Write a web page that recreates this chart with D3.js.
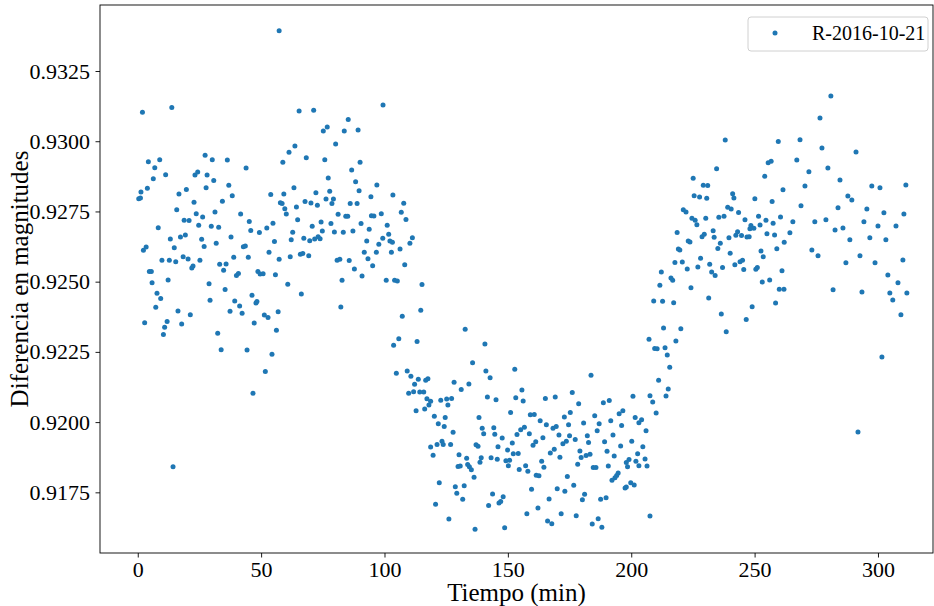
<!DOCTYPE html>
<html>
<head>
<meta charset="utf-8">
<script src="https://cdn.jsdelivr.net/npm/d3@7"></script>
<style>
  body { margin: 0; background: #fff; }
  svg { display: block; }
  text { font-family: "Liberation Serif", "Times New Roman", serif; fill: #000; }
</style>
</head>
<body>
<svg id="chart" width="934" height="606"></svg>
<script>
// time (min) and magnitude difference
const times = [
    1.9, 13.8, 4.3, 8.9, 6.9, 6.3, 11.3, 1.3, 3.9, 0.4, 1.1, 27.3, 23.2, 24.3, 28.1, 27.7, 16.7, 19.7, 22.8, 15.8,
    23.7, 26.3, 18.8, 20.8, 24.7, 8.3, 13.2, 17.3, 19.3, 25.9, 2.3, 3.4, 14.8, 26.9, 9.8, 12.8, 15.4, 18.4, 20.4, 25.2,
    21.9, 22.4, 4.7, 5.5, 5.8, 12.3, 28.9, 7.8, 9.3, 7.3, 16.3, 21.3, 2.8, 11.9, 17.8, 10.9, 10.4, 14.3,
    30.2, 36.3, 43.9, 58.8, 30.8, 36.9, 38.3, 34.3, 53.9, 59.2, 57.8, 58.5, 59.6, 31.3, 41.7, 45.2, 29.8, 32.8, 45.8, 49.3,
    52.3, 54.8, 31.8, 37.8, 42.8, 43.6, 55.4, 53.2, 38.9, 44.8, 57.3, 33.2, 35.8, 34.8, 40.0, 40.8, 48.7, 49.6, 50.8, 55.8,
    35.4, 29.3, 39.3, 41.3, 46.3, 47.9, 48.3, 37.4, 42.3, 51.3, 52.8, 56.9, 47.2, 56.2, 32.4, 33.8, 44.3, 54.4, 51.7, 46.7,
    65.4, 71.3, 85.3, 76.8, 75.2, 83.7, 89.3, 63.7, 80.2, 61.3, 68.3, 75.8, 90.1, 86.7, 77.2, 88.3, 63.3, 89.7, 72.2, 77.8,
    64.3, 67.8, 70.2, 72.8, 76.3, 79.3, 78.7, 86.1, 88.9, 60.2, 64.8, 81.2, 84.3, 85.1, 90.5, 70.7, 74.3, 78.3, 62.8, 62.2,
    67.3, 69.7, 71.7, 73.1, 73.9, 74.8, 79.7, 83.3, 87.2, 61.8, 65.9, 66.9, 69.3, 80.8, 81.9, 85.7, 87.8, 90.9, 82.8, 60.8,
    66.3, 82.3, 57.3, 99.4, 96.9, 94.5, 103.4,
    107.8, 106.8, 108.7, 94.7, 95.7, 98.7, 93.8, 101.1, 101.7, 99.3, 92.8, 97.7, 102.2, 103.2, 111.3, 110.3, 106.3, 91.8, 96.7, 102.8,
    93.3, 95.2, 108.2, 100.7, 104.1, 105.2, 115.2, 114.7, 107.2, 105.8, 103.7, 113.2, 104.8, 109.2, 110.7, 113.7, 112.2, 116.7, 117.6, 109.8,
    111.8, 114.3, 115.9, 117.2, 118.0, 116.3, 112.8, 118.7,
    132.7, 140.7, 135.7, 141.1, 142.8, 128.2, 134.2, 131.1, 118.7, 122.8, 125.2, 127.2, 125.7, 141.7, 145.2, 120.2, 124.6, 121.8, 124.2, 127.8,
    138.3, 139.6, 140.2, 144.3, 144.7, 121.3, 123.3, 123.8, 126.8, 137.1, 137.9, 146.0, 119.7, 130.2, 133.3, 139.2, 138.7, 143.2, 145.7, 129.8,
    130.7, 133.7, 134.4, 135.2, 136.3, 122.2, 128.7, 132.3, 129.3, 131.7, 143.8, 120.7, 142.2, 146.4, 126.1, 136.7,
    152.8, 155.7, 153.2, 156.2, 165.2, 169.2, 151.1, 159.1, 160.7, 163.1, 165.6, 172.9, 175.3, 147.7, 153.7, 155.2, 156.7, 158.7, 160.2, 161.3,
    164.2, 168.3, 169.6, 170.7, 172.3, 173.7, 174.6, 175.0, 149.9, 151.8, 152.2, 154.2, 149.2, 150.7, 150.2, 167.2, 168.8, 171.1, 154.6, 157.2,
    158.1, 163.7, 164.6, 161.5, 162.6, 174.1, 159.6, 170.0, 173.1, 148.1, 147.1, 166.7, 162.2, 157.7, 171.6, 148.7, 166.1, 167.8,
    183.7, 176.1, 178.7, 188.7, 191.1, 200.7, 185.2, 195.1, 196.6, 201.6, 203.1, 180.7, 187.0, 191.7, 196.1, 186.2, 177.3, 182.2, 182.7, 189.2,
    192.6, 200.2, 195.7, 179.2, 179.7, 181.7, 183.3, 190.2, 193.1, 202.6, 199.1, 198.0, 198.5, 201.9, 203.1, 178.3, 184.6, 185.7, 190.7, 194.7,
    194.1, 193.4, 192.2, 176.7, 181.1, 180.2, 187.6, 189.8, 197.5, 198.0, 199.8, 201.2, 177.7, 184.2, 186.6, 188.1,
    204.7, 205.6, 206.4, 207.6, 206.0,
    225.1, 229.2, 231.0, 225.5, 227.7, 230.6, 221.1, 222.2, 224.6, 225.9, 226.6, 230.2, 218.6, 223.1, 223.8, 228.7, 229.6, 219.1, 219.7, 217.7,
    220.7, 228.1, 222.7, 227.0, 231.8, 212.2, 216.1, 216.8, 211.6, 224.2, 231.4, 209.1, 212.7, 217.2, 213.1, 220.1, 207.2, 218.1, 209.5, 210.5,
    213.7, 214.6, 215.6, 211.1, 215.0, 207.6, 214.1, 208.7, 210.1, 204.2,
    238.1, 259.6, 234.6, 255.5, 256.7, 254.1, 241.1, 241.6, 250.1, 261.5, 257.1, 239.1, 240.5, 243.5, 235.5, 237.6, 246.1, 251.6, 254.6, 260.5,
    248.5, 252.2, 257.5, 248.1, 249.7, 233.2, 233.6, 239.6, 242.4, 243.1, 244.7, 246.9, 247.8, 255.0, 258.1, 262.0, 236.1, 235.1, 240.1, 252.6,
    253.5, 259.0, 237.0, 242.0, 244.1, 245.1, 245.6, 250.5, 251.1, 232.6, 234.0, 253.1, 256.1, 261.1, 260.0, 261.9, 258.5, 249.0, 236.5, 246.6,
    238.5,
    264.3, 265.5, 267.1, 268.4, 268.8, 270.4, 272.0, 273.2, 274.4, 275.7, 276.5, 277.3, 278.9, 279.7, 280.9, 281.8, 282.6, 283.8, 284.6, 285.8,
    287.0, 287.8, 288.6, 289.4, 291.1, 291.9, 292.7, 293.5, 294.3, 295.5, 296.7, 297.5, 298.8, 300.0, 300.8, 301.6, 302.4, 303.2, 304.0, 304.8,
    306.0, 307.3, 308.1, 309.3, 310.1, 311.3, 310.5, 311.7
]

const mags = [
    0.93103, 0.93120, 0.92927, 0.92934, 0.92906, 0.92866, 0.92881, 0.92819, 0.92833, 0.92795, 0.92798, 0.92950, 0.92880, 0.92890, 0.92880, 0.92834, 0.92812, 0.92828, 0.92783, 0.92756,
    0.92742, 0.92730, 0.92719, 0.92718, 0.92701, 0.92692, 0.92652, 0.92659, 0.92666, 0.92651, 0.92612, 0.92623, 0.92621, 0.92625, 0.92576, 0.92576, 0.92571, 0.92589, 0.92581, 0.92576,
    0.92549, 0.92556, 0.92536, 0.92536, 0.92496, 0.92506, 0.92493, 0.92459, 0.92440, 0.92409, 0.92396, 0.92382, 0.92354, 0.92358, 0.92349, 0.92338, 0.92312, 0.91841,
    0.92934, 0.92933, 0.92905, 0.92925, 0.92860, 0.92843, 0.92806, 0.92786, 0.92810, 0.92812, 0.92781, 0.92778, 0.92760, 0.92748, 0.92741, 0.92714, 0.92697, 0.92694, 0.92682, 0.92675,
    0.92691, 0.92708, 0.92637, 0.92659, 0.92624, 0.92627, 0.92643, 0.92605, 0.92587, 0.92587, 0.92580, 0.92562, 0.92563, 0.92541, 0.92522, 0.92529, 0.92536, 0.92527, 0.92528, 0.92525,
    0.92472, 0.92434, 0.92431, 0.92413, 0.92452, 0.92424, 0.92429, 0.92395, 0.92388, 0.92381, 0.92372, 0.92393, 0.92353, 0.92327, 0.92316, 0.92258, 0.92257, 0.92242, 0.92180, 0.92103,
    0.93108, 0.93110, 0.93077, 0.93051, 0.93036, 0.93036, 0.93040, 0.92983, 0.92990, 0.92961, 0.92941, 0.92934, 0.92925, 0.92898, 0.92869, 0.92856, 0.92834, 0.92824, 0.92817, 0.92822,
    0.92766, 0.92785, 0.92780, 0.92772, 0.92794, 0.92794, 0.92778, 0.92778, 0.92778, 0.92741, 0.92720, 0.92740, 0.92733, 0.92733, 0.92707, 0.92697, 0.92712, 0.92707, 0.92676, 0.92649,
    0.92655, 0.92646, 0.92652, 0.92660, 0.92653, 0.92680, 0.92677, 0.92676, 0.92680, 0.92589, 0.92598, 0.92600, 0.92592, 0.92576, 0.92580, 0.92575, 0.92545, 0.92520, 0.92505, 0.92491,
    0.92456, 0.92410, 0.93393, 0.93129, 0.92844, 0.92802, 0.92809,
    0.92779, 0.92747, 0.92721, 0.92735, 0.92734, 0.92742, 0.92687, 0.92701, 0.92669, 0.92655, 0.92645, 0.92633, 0.92645, 0.92640, 0.92656, 0.92637, 0.92616, 0.92605, 0.92605, 0.92605,
    0.92582, 0.92557, 0.92560, 0.92505, 0.92505, 0.92502, 0.92490, 0.92398, 0.92377, 0.92297, 0.92274, 0.92287, 0.92174, 0.92182, 0.92163, 0.92153, 0.92135, 0.92149, 0.92154, 0.92103,
    0.92108, 0.92107, 0.92107, 0.92083, 0.92061, 0.92047, 0.92040, 0.91911,
    0.92331, 0.92278, 0.92211, 0.92182, 0.92158, 0.92142, 0.92136, 0.92116, 0.92074, 0.92078, 0.92082, 0.92084, 0.92061, 0.92089, 0.92080, 0.92021, 0.92016, 0.91994, 0.91984, 0.91964,
    0.92016, 0.91978, 0.91959, 0.91980, 0.91957, 0.91920, 0.91932, 0.91920, 0.91920, 0.91919, 0.91914, 0.91912, 0.91882, 0.91884, 0.91871, 0.91873, 0.91857, 0.91873, 0.91868, 0.91842,
    0.91844, 0.91849, 0.91841, 0.91830, 0.91804, 0.91784, 0.91770, 0.91773, 0.91747, 0.91725, 0.91744, 0.91708, 0.91703, 0.91712, 0.91655, 0.91619,
    0.92188, 0.92114, 0.92087, 0.92075, 0.92084, 0.92089, 0.92034, 0.92026, 0.92027, 0.92005, 0.91991, 0.92018, 0.92034, 0.91943, 0.91956, 0.91973, 0.91982, 0.91959, 0.91918, 0.91930,
    0.91944, 0.91978, 0.91984, 0.91954, 0.91923, 0.91932, 0.91991, 0.91951, 0.91901, 0.91926, 0.91887, 0.91888, 0.91862, 0.91864, 0.91845, 0.91890, 0.91903, 0.91875, 0.91831, 0.91845,
    0.91825, 0.91861, 0.91839, 0.91811, 0.91809, 0.91806, 0.91761, 0.91763, 0.91754, 0.91734, 0.91717, 0.91726, 0.91694, 0.91674, 0.91674, 0.91624, 0.91648, 0.91638,
    0.92167, 0.92105, 0.92065, 0.92069, 0.92077, 0.92092, 0.92023, 0.92030, 0.92040, 0.92016, 0.91998, 0.91997, 0.91994, 0.92005, 0.91988, 0.91969, 0.91938, 0.91951, 0.91927, 0.91930,
    0.91954, 0.91932, 0.91915, 0.91897, 0.91874, 0.91881, 0.91886, 0.91896, 0.91879, 0.91887, 0.91867, 0.91856, 0.91841, 0.91861, 0.91845, 0.91850, 0.91838, 0.91838, 0.91844, 0.91819,
    0.91810, 0.91802, 0.91793, 0.91775, 0.91743, 0.91724, 0.91725, 0.91731, 0.91765, 0.91769, 0.91784, 0.91776, 0.91667, 0.91637, 0.91656, 0.91626,
    0.91912, 0.91869, 0.91844, 0.91666, 0.91969,
    0.92868, 0.92843, 0.92842, 0.92806, 0.92801, 0.92797, 0.92756, 0.92748, 0.92726, 0.92719, 0.92703, 0.92726, 0.92675, 0.92645, 0.92641, 0.92660, 0.92669, 0.92616, 0.92613, 0.92568,
    0.92570, 0.92583, 0.92545, 0.92552, 0.92562, 0.92534, 0.92513, 0.92505, 0.92487, 0.92478, 0.92442, 0.92431, 0.92430, 0.92425, 0.92335, 0.92332, 0.92295, 0.92289, 0.92262, 0.92261,
    0.92265, 0.92239, 0.92195, 0.92149, 0.92118, 0.92094, 0.92093, 0.92072, 0.92032, 0.92008,
    0.93004, 0.92999, 0.92902, 0.92923, 0.92929, 0.92875, 0.92813, 0.92798, 0.92795, 0.92827, 0.92785, 0.92765, 0.92759, 0.92746, 0.92729, 0.92733, 0.92720, 0.92733, 0.92719, 0.92730,
    0.92700, 0.92702, 0.92708, 0.92688, 0.92690, 0.92681, 0.92658, 0.92656, 0.92665, 0.92678, 0.92664, 0.92659, 0.92660, 0.92671, 0.92666, 0.92640, 0.92637, 0.92618, 0.92601, 0.92609,
    0.92589, 0.92617, 0.92550, 0.92560, 0.92571, 0.92576, 0.92543, 0.92544, 0.92550, 0.92534, 0.92522, 0.92499, 0.92506, 0.92539, 0.92473, 0.92473, 0.92424, 0.92411, 0.92385, 0.92365,
    0.92322,
    0.92674, 0.92713, 0.92933, 0.93005, 0.92770, 0.92841, 0.92891, 0.92613, 0.92713, 0.92592, 0.93083, 0.92976, 0.92720, 0.92905, 0.93161, 0.92471, 0.92684, 0.92763, 0.92862, 0.92691,
    0.92567, 0.92805, 0.92649, 0.92791, 0.92962, 0.91965, 0.92592, 0.92463, 0.92713, 0.92759, 0.92656, 0.92841, 0.92567, 0.92698, 0.92834, 0.92232, 0.92745, 0.92649, 0.92524, 0.92460,
    0.92435, 0.92698, 0.92496, 0.92382, 0.92577, 0.92844, 0.92741, 0.92460
]

const xTicks = [0, 50, 100, 150, 200, 250, 300]
const yTicks = [0.9175, 0.9200, 0.9225, 0.9250, 0.9275, 0.9300, 0.9325]
const seriesLabel = 'R-2016-10-21'
const xLabel = 'Tiempo (min)'
const yLabel = 'Diferencia en magnitudes'

const color = '#1f77b4'
const margin = { left: 100, top: 5, right: 1, bottom: 53 }
const width = 934
const height = 606

const svg = d3.select('#chart')

const x = d3.scaleLinear().domain([-15.3, 322.3]).range([margin.left, width - margin.right])
const y = d3.scaleLinear().domain([0.91534, 0.93485]).range([height - margin.bottom, margin.top])

const points = times.map((t, i) => ({ t, m: mags[i] }))

// axes
const xAxis = d3.axisBottom(x).tickValues(xTicks).tickFormat(d3.format('d')).tickSize(4.5).tickPadding(3.5)
const yAxis = d3.axisLeft(y).tickValues(yTicks).tickFormat(d3.format('.4f')).tickSize(4.5).tickPadding(5.5)

const gx = svg.append('g').attr('transform', `translate(0,${height - margin.bottom})`).call(xAxis)
const gy = svg.append('g').attr('transform', `translate(${margin.left},0)`).call(yAxis)

;[gx, gy].forEach(g => {
    g.select('.domain').remove()
    g.selectAll('line').attr('stroke', '#000').attr('stroke-width', 0.9)
    g.selectAll('text').attr('font-size', 22).attr('font-family', '"Liberation Serif", serif').attr('fill', '#000')
})

// points
svg.append('g')
    .selectAll('circle')
    .data(points)
    .join('circle')
    .attr('cx', d => x(d.t))
    .attr('cy', d => y(d.m))
    .attr('r', 2.5)
    .attr('fill', color)

// frame
svg.append('rect')
    .attr('x', margin.left)
    .attr('y', margin.top)
    .attr('width', width - margin.right - margin.left)
    .attr('height', height - margin.bottom - margin.top)
    .attr('fill', 'none')
    .attr('stroke', '#000')
    .attr('stroke-width', 0.9)

// labels
svg.append('text')
    .attr('x', (margin.left + width - margin.right) / 2)
    .attr('y', 601)
    .attr('text-anchor', 'middle')
    .attr('font-size', 25)
    .text(xLabel)

svg.append('text')
    .attr('transform', `translate(28,${(margin.top + height - margin.bottom) / 2}) rotate(-90)`)
    .attr('text-anchor', 'middle')
    .attr('font-size', 25)
    .text(yLabel)

// legend
const legend = svg.append('g').attr('transform', 'translate(748,17)')
legend.append('rect')
    .attr('width', 180)
    .attr('height', 34)
    .attr('rx', 3)
    .attr('fill', '#fff')
    .attr('fill-opacity', 0.8)
    .attr('stroke', '#d0d0d0')
legend.append('circle').attr('cx', 27).attr('cy', 16).attr('r', 2.5).attr('fill', color)
legend.append('text').attr('x', 64).attr('y', 23).attr('font-size', 20).text(seriesLabel)
</script>
</body>
</html>
